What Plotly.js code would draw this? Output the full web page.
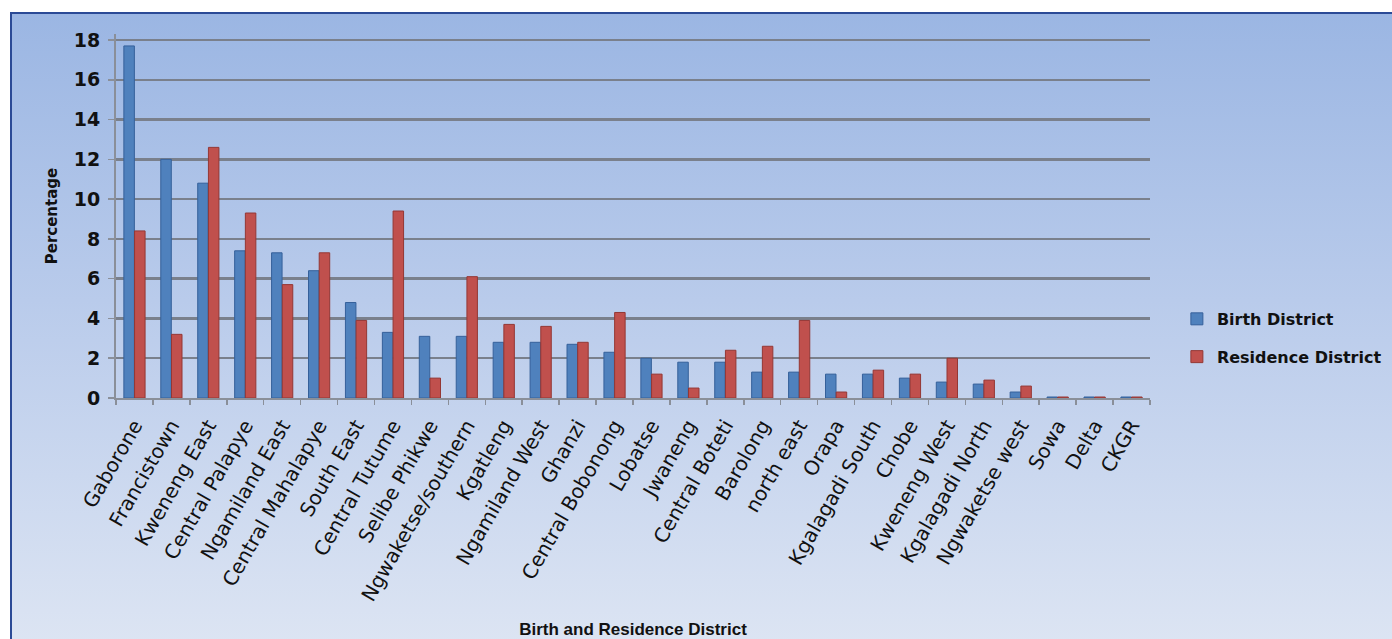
<!DOCTYPE html>
<html>
<head>
<meta charset="utf-8">
<script src="https://cdn.plot.ly/plotly-3.0.1.min.js"></script>
<style>
  html, body { margin: 0; padding: 0; background: #ffffff; overflow: hidden; }
  #frame {
    position: absolute; left: 10px; top: 12px; width: 1400px; height: 640px;
    border: 2px solid #2b4a96; box-sizing: border-box;
    background: linear-gradient(to bottom, #9bb6e3 0%, #b9cbeb 45%, #dde5f3 100%);
  }
  #chart { position: absolute; left: 0; top: 0; width: 1392px; height: 639px; }
</style>
</head>
<body>
<div id="frame"></div>
<div id="chart"></div>
<script>
const districts = ["Gaborone","Francistown","Kweneng East","Central Palapye","Ngamiland East",
  "Central Mahalapye","South East","Central Tutume","Selibe Phikwe","Ngwaketse/southern",
  "Kgatleng","Ngamiland West","Ghanzi","Central Bobonong","Lobatse","Jwaneng",
  "Central Boteti","Barolong","north east","Orapa","Kgalagadi South","Chobe",
  "Kweneng West","Kgalagadi North","Ngwaketse west","Sowa","Delta","CKGR"];
const birthDistrict = [17.7,12.0,10.8,7.4,7.3,6.4,4.8,3.3,3.1,3.1,
  2.8,2.8,2.7,2.3,2.0,1.8,1.8,1.3,1.3,1.2,1.2,1.0,0.8,0.7,0.3,0.05,0.05,0.05];
const residenceDistrict = [8.4,3.2,12.6,9.3,5.7,7.3,3.9,9.4,1.0,6.1,
  3.7,3.6,2.8,4.3,1.2,0.5,2.4,2.6,3.9,0.3,1.4,1.2,2.0,0.9,0.6,0.05,0.05,0.05];
const seriesNames = ["Birth District","Residence District"];
const yTicks = [0,2,4,6,8,10,12,14,16,18];

const traces = [
  {type: "bar", name: seriesNames[0], x: districts, y: birthDistrict,
   legendgroup: "a",
   marker: {color: "#4f81bd", line: {color: "#35609a", width: 1}}},
  {type: "bar", name: seriesNames[1], x: districts, y: residenceDistrict,
   legendgroup: "b",
   marker: {color: "#c0504d", line: {color: "#943734", width: 1}}}
];

const layout = {
  width: 1392, height: 639,
  paper_bgcolor: "rgba(0,0,0,0)",
  plot_bgcolor: "rgba(0,0,0,0)",
  margin: {l: 116, r: 242, t: 34, b: 241, autoexpand: false},
  barmode: "group",
  bargap: 0.42,
  bargroupgap: 0.02,
  showlegend: true,
  legend: {
    x: 1.026, y: 0.165, xanchor: "left", yanchor: "middle",
    font: {family: "DejaVu Sans, sans-serif", size: 16, color: "#111111", weight: "bold"},
    bgcolor: "rgba(0,0,0,0)", tracegroupgap: 14
  },
  xaxis: {
    tickangle: -60,
    tickfont: {family: "DejaVu Sans, sans-serif", size: 20, color: "#111111"},
    ticklabelstandoff: 6,
    ticks: "outside", ticklen: 5, tickcolor: "#8a8f99", tickwidth: 1.5,
    tickson: "boundaries",
    showline: true, linecolor: "#8a8f99", linewidth: 2,
    showgrid: false,
    automargin: false,
    title: {text: "Birth and Residence District",
            font: {family: "Liberation Sans, sans-serif", size: 17, color: "#111111", weight: "bold"},
            standoff: 22}
  },
  yaxis: {
    range: [0, 18.3],
    tickvals: yTicks,
    tickfont: {family: "DejaVu Sans, sans-serif", size: 19, color: "#111111", weight: "bold"},
    ticklabelstandoff: 4,
    ticks: "outside", ticklen: 6, tickcolor: "#8a8f99", tickwidth: 1.5,
    showline: true, linecolor: "#8a8f99", linewidth: 2,
    showgrid: true, gridcolor: "#7a808c", gridwidth: 2.5,
    zeroline: false,
    automargin: false,
    title: {text: "Percentage",
            font: {family: "DejaVu Sans, sans-serif", size: 15, color: "#111111", weight: "bold"},
            standoff: 12}
  }
};

Plotly.newPlot("chart", traces, layout, {displayModeBar: false, staticPlot: true});
</script>
</body>
</html>
